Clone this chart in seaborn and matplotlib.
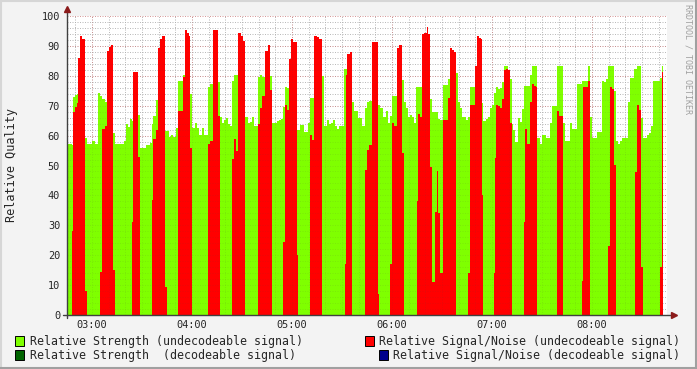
import numpy as np
import pandas as pd
import matplotlib
matplotlib.use("Agg")
import matplotlib.pyplot as plt
from matplotlib.patches import Rectangle
from matplotlib.lines import Line2D
import seaborn as sns

# sample start times, minutes after 02:45 (one sample ~ 36 s)
t_start = [
    0, 3, 3.6, 4.8, 6, 6.6, 7.8, 9, 10.8, 12,
    15, 16.8, 18.6, 19.8, 21, 22.8, 24, 25.2, 26.4, 27.6,
    28.8, 34.2, 35.4, 36.6, 37.8, 39, 39.6, 42.6, 43.8, 47.4,
    49.8, 51, 51.6, 53.4, 54.6, 55.8, 57, 58.8, 60, 61.2,
    62.4, 63.6, 65.4, 66.6, 69.6, 70.8, 72, 73.2, 73.8, 75,
    76.8, 78, 79.2, 81, 82.2, 84.6, 85.8, 87.6, 90.6, 91.8,
    93, 94.2, 95.4, 96.6, 97.8, 99, 100.2, 101.4, 102.6, 104.4,
    105.6, 106.8, 108.6, 109.8, 111, 112.2, 114.6, 115.8, 117, 118.8,
    120.6, 121.8, 123, 126, 127.2, 128.4, 129.6, 130.8, 132, 133.2,
    134.4, 135.6, 138, 138.6, 139.8, 142.2, 144.6, 145.8, 147, 148.2,
    150, 151.2, 153, 154.2, 156, 157.2, 158.4, 159.6, 160.8, 162,
    163.2, 166.2, 166.8, 167.4, 168, 169.8, 171, 172.2, 174.6, 177,
    178.8, 180, 181.2, 183, 186.6, 187.2, 187.8, 189.6, 191.4, 192.6,
    193.8, 195, 196.2, 198, 199.2, 201, 202.2, 203.4, 204.6, 205.8,
    207, 208.2, 209.4, 210, 210.6, 211.8, 213, 214.2, 216, 216.6,
    217.8, 219, 220.8, 222, 222.6, 223.8, 225.6, 228.6, 229.8, 231,
    232.2, 233.4, 234.6, 235.8, 237, 239.4, 240.6, 241.8, 244.8, 246,
    247.2, 248.4, 249, 249.6, 251.4, 252.6, 253.8, 255, 256.2, 256.8,
    257.4, 258.6, 259.8, 261, 262.2, 263.4, 264.6, 265.8, 267, 267.6,
    268.8, 270.6, 271.8, 273, 274.2, 274.8, 276, 277.8, 279, 280.2,
    281.4, 282, 283.8, 285, 287.4, 289.8, 291, 294, 295.2, 297.6,
    298.8, 301.8, 303, 306, 309, 309.6, 312.6, 313.8, 315, 318,
    321, 322.2, 323.4, 324.6, 325.8, 327, 328.2, 329.4, 330.6, 331.8,
    333, 336.6, 337.8, 340.2, 340.8, 342, 343.2, 344.4, 345.6, 348,
    349.2, 350.4, 351.6, 355.8, 357,
]
t_end = 357.6

strength = [
    57.2, 57, 73, 73.5, 74, 74, 74, 74, 59.2, 57.2,
    58.2, 57.2, 74.2, 73.2, 72.2, 71.2, 71, 71, 71, 60.9,
    57.2, 58.2, 64, 63, 65.5, 65, 65, 67, 56, 57,
    57.5, 64, 66.5, 72, 72, 72, 72, 61.5, 61.5, 59.5,
    60.2, 59.5, 62.5, 78.3, 80.3, 80, 80, 80, 74, 62.5,
    64.2, 62.5, 60.2, 62.5, 60.2, 76.2, 77.3, 79, 78, 66.2,
    64.2, 65.2, 65.9, 63.9, 63.2, 78.3, 80.3, 80.3, 80, 80,
    80, 66.2, 64.2, 64.5, 66.2, 63.2, 79.6, 80.3, 79.6, 80,
    80, 80, 64.2, 64.9, 65.2, 65.6, 69.6, 76.2, 76, 76,
    76, 76, 62, 62, 63.5, 61.2, 64.2, 72.5, 72.5, 80,
    80, 80, 80, 63.2, 65.2, 63.9, 64.2, 65.2, 63.2, 62.2,
    63.2, 82.3, 82.3, 82.3, 82, 82, 71.2, 68.2, 66, 63.2,
    69.2, 71.2, 71.5, 72, 70.2, 70.2, 69.2, 66.2, 68.2, 64.2,
    66.5, 73.2, 73.2, 78.6, 78.6, 78.6, 71.2, 69.2, 66.2, 67,
    66.2, 64.2, 76.2, 76.2, 76.2, 76.2, 78, 78, 78, 78,
    72.2, 68, 68, 68, 65.6, 65.2, 77, 79, 79, 79,
    79, 81, 71.2, 69.2, 66.2, 65.2, 66.2, 76.2, 76.2, 76.2,
    76.2, 76.2, 71, 64.9, 65.6, 66.2, 69.2, 70.2, 74.2, 74.2,
    76.2, 75.5, 76, 78, 83.3, 83.3, 79, 79, 64, 62,
    58, 66, 64.5, 69, 76.5, 76.5, 76.5, 80.3, 83.3, 83.3,
    83.3, 59.2, 57.2, 60.2, 59.2, 64.2, 69.9, 83.3, 83.3, 64.2,
    58.2, 64.2, 62.2, 77.3, 78.3, 78.3, 83.3, 66.2, 59.2, 61.2,
    78.3, 78, 79, 83.3, 83.3, 83.3, 75, 58.2, 57.2, 58.2,
    59.2, 71.2, 79.3, 82.3, 82.3, 83.3, 83.3, 66, 59.2, 60.2,
    61, 63.2, 78.3, 79.3, 83.3,
]

snr = [
    0, 28, 68, 69.5, 71, 86, 93.3, 92.3, 8, 0,
    0, 0, 0, 14.5, 62.2, 63.2, 88.3, 89.6, 90.3, 15,
    0, 0, 0, 0, 0, 31, 81.3, 53, 0, 0,
    0, 38.5, 59, 62, 89.3, 92.3, 93.3, 9.5, 0, 0,
    0, 0, 0, 68.2, 79.6, 95.3, 94.3, 93.3, 56, 0,
    0, 0, 0, 0, 0, 57.2, 58.2, 95.3, 66.5, 0,
    0, 0, 0, 0, 0, 52.2, 58.9, 55, 94.3, 93.3,
    91.6, 0, 0, 0, 0, 0, 63.9, 69.2, 73.2, 88.3,
    90.3, 75.2, 0, 0, 0, 0, 24.5, 70.2, 68.6, 85.6,
    92.3, 91.3, 20, 0, 0, 0, 0, 60.2, 58.5, 93.3,
    93, 92.3, 0, 0, 0, 0, 0, 0, 0, 0,
    0, 0, 17, 80.3, 87.3, 88, 0, 0, 0, 0,
    48.5, 55.2, 56.9, 91.3, 7, 0, 0, 0, 0, 0,
    17, 64.2, 63.2, 89.3, 90.3, 54.2, 0, 0, 0, 0,
    0, 0, 0, 38, 67.2, 66.2, 94, 94.3, 96.3, 94,
    49.5, 11, 34.5, 48, 34, 14, 65.2, 72.6, 89.3, 88.6,
    87.9, 0, 0, 0, 0, 0, 14, 70.2, 83.3, 93.3,
    92.6, 92.3, 40, 0, 0, 0, 0, 0, 14, 52.5,
    70.2, 69.9, 69.2, 72.2, 82, 82.3, 82, 64.2, 0, 0,
    0, 0, 0, 0, 31, 62.2, 57.2, 71.2, 77.3, 76.6,
    76.2, 0, 0, 0, 0, 0, 0, 68.2, 66.5, 0,
    0, 0, 0, 0, 11.4, 76.2, 78.3, 0, 0, 0,
    0, 0, 0, 23, 76.2, 75.5, 50.2, 0, 0, 0,
    0, 0, 0, 0, 47.8, 70.2, 68.6, 16, 0, 0,
    0, 0, 0, 16, 81.3,
]

hour_ticks = [15, 75, 135, 195, 255, 315]
hour_labels = ["03:00", "04:00", "05:00", "06:00", "07:00", "08:00"]

legend_labels = [
    "Relative Strength (undecodeable signal)",
    "Relative Signal/Noise (undecodeable signal)",
    "Relative Strength  (decodeable signal)",
    "Relative Signal/Noise (decodeable signal)",
]
legend_colors = ["#7FFF00", "#FF0000", "#006400", "#00008B"]

assert len(t_start) == len(strength) == len(snr)

df = pd.DataFrame({"start": t_start, "strength": strength, "snr": snr})
df["end"] = df["start"].shift(-1).fillna(t_end)
df["mid"] = (df["start"] + df["end"]) / 2
edges = list(df["start"]) + [t_end]

sns.set_style("white")
plt.rcParams["font.family"] = ["DejaVu Sans Mono"]

W, H = 697, 369
fig = plt.figure(figsize=(W / 100, H / 100), dpi=100, facecolor="#F3F3F3")
ax = fig.add_axes([67 / W, 54 / H, 600 / W, 299 / H])
ax.set_facecolor("white")

sns.histplot(x=df["mid"], weights=df["strength"], bins=edges, element="step",
             fill=True, color="#7FFF00", alpha=1, linewidth=0, ax=ax)
sns.histplot(x=df["mid"], weights=df["snr"], bins=edges, element="step",
             fill=True, color="#FF0000", alpha=1, linewidth=0, ax=ax)

ax.set_xlim(0, 360)
ax.set_ylim(0, 100)
ax.set_xlabel("")
ax.set_ylabel("")
for s in ax.spines.values():
    s.set_visible(False)

# dotted grid: clear on the white canvas, faint over the filled areas
dots = (0, (1, 1.5))
ax.set_axisbelow(True)
ax.set_xticks(hour_ticks)
ax.set_xticklabels(hour_labels)
ax.set_xticks(np.arange(5, 360, 10), minor=True)
ax.set_yticks(np.arange(0, 101, 10))
ax.set_yticks(np.arange(0, 101, 2), minor=True)
ax.grid(which="minor", color="#C8C8C8", linestyle=dots, linewidth=0.72)
ax.grid(which="major", color="#D79A9A", linestyle=dots, linewidth=0.72)
ax.hlines(np.arange(2, 100, 2), 0, 360, colors=[(0.3, 0.3, 0.3, 0.1)],
          linestyles=[dots], linewidth=0.72, zorder=3)
ax.vlines(np.arange(5, 360, 10), 0, 100, colors=[(0.3, 0.3, 0.3, 0.1)],
          linestyles=[dots], linewidth=0.72, zorder=3)
ax.tick_params(axis="both", which="both", length=0, labelsize=7.4)
ax.tick_params(axis="y", pad=5)
ax.tick_params(axis="x", pad=3.5)

# axis lines with arrows
axis_col = "#404040"
arrow_col = "#8B1A1A"
ax.plot([-4 / 600, 606 / 600], [0, 0], transform=ax.transAxes, color=axis_col,
        lw=1, clip_on=False, zorder=5)
ax.plot([0, 0], [-3 / 299, 1 + 6 / 299], transform=ax.transAxes, color=axis_col,
        lw=1, clip_on=False, zorder=5)
ax.plot([607 / 600], [0], marker=">", ms=4.5, color=arrow_col, transform=ax.transAxes,
        clip_on=False, zorder=6)
ax.plot([0], [1 + 7 / 299], marker="^", ms=4.5, color=arrow_col, transform=ax.transAxes,
        clip_on=False, zorder=6)

fig.text(12 / W, 1 - 165 / H, "Relative Quality", rotation=90, ha="center",
         va="center", fontsize=8.6)
fig.text(688 / W, 1 - 4 / H, "RRDTOOL / TOBI OETIKER", rotation=270, ha="center",
         va="top", fontsize=6, color="#A0A0A0")

# legend, two rows, right column right-justified
rows_y = [341, 355]
for i, (lab, col) in enumerate(zip(legend_labels, legend_colors)):
    y = 1 - rows_y[i // 2] / H
    if i % 2 == 0:
        bx = 15
        fig.text(30 / W, y, lab, ha="left", va="center", fontsize=8.4)
    else:
        bx = 365 if i == 1 else 379
        fig.text(680 / W, y, lab, ha="right", va="center", fontsize=8.4)
    fig.add_artist(Rectangle((bx / W, y - 5 / H), 9 / W, 10 / H, transform=fig.transFigure,
                             facecolor=col, edgecolor="black", lw=0.7))

# frame
fig.add_artist(Line2D([0, 1], [1 - 1 / H, 1 - 1 / H], transform=fig.transFigure, color="#D6D6D6", lw=1.5))
fig.add_artist(Line2D([1 / W, 1 / W], [0, 1], transform=fig.transFigure, color="#D6D6D6", lw=1.5))
fig.add_artist(Line2D([0, 1], [1.5 / H, 1.5 / H], transform=fig.transFigure, color="#A0A0A0", lw=1.5))
fig.add_artist(Line2D([1 - 1.5 / W, 1 - 1.5 / W], [0, 1], transform=fig.transFigure, color="#A0A0A0", lw=1.5))

fig.savefig("out.png", dpi=100, facecolor=fig.get_facecolor())
